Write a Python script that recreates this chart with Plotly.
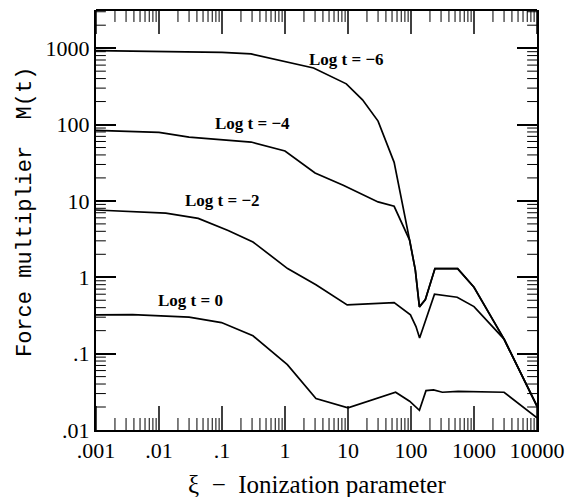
import numpy as np
import plotly.graph_objects as go

# ---- data ----
# Log t = -6
xi_m6 = [0.001, 0.01, 0.1, 0.29, 0.76, 2.84, 9.4, 17, 30, 54, 95, 117, 136, 169, 240, 550, 1000, 3000, 10000]
m_m6 = [930, 910, 880, 840, 700, 551, 341, 211, 111, 32, 3.07, 1.25, 0.41, 0.51, 1.3, 1.3, 0.74, 0.155, 0.0205]
# Log t = -4
xi_m4 = [0.001, 0.01, 0.03, 0.29, 1.0, 3.0, 8.4, 30, 54, 95, 117, 136, 169, 240, 550, 1000, 3000, 10000]
m_m4 = [84, 79, 68.5, 59, 45, 23.2, 16, 9.7, 8.5, 3.07, 1.25, 0.41, 0.51, 1.3, 1.3, 0.74, 0.155, 0.0205]
# Log t = -2
xi_m2 = [0.001, 0.0128, 0.042, 0.125, 0.31, 1.1, 3.1, 9.7, 54, 98, 120, 137, 236, 541, 1000, 3000, 10000]
m_m2 = [7.6, 6.9, 5.9, 4.1, 2.9, 1.3, 0.8, 0.434, 0.466, 0.322, 0.226, 0.16, 0.6, 0.548, 0.413, 0.155, 0.0205]
# Log t = 0
xi_0 = [0.001, 0.0038, 0.03, 0.098, 0.31, 1.09, 3.1, 10, 57, 95, 136, 173, 228, 315, 560, 3000, 10000]
m_0 = [0.322, 0.325, 0.30, 0.255, 0.171, 0.0716, 0.0258, 0.0195, 0.0312, 0.0238, 0.0181, 0.0328, 0.0336, 0.0312, 0.0321, 0.0312, 0.0144]

series = [(xi_m6, m_m6), (xi_m4, m_m4), (xi_m2, m_m2), (xi_0, m_0)]
curve_labels = ["Log t = \u22126", "Log t = \u22124", "Log t = \u22122", "Log t = 0"]
label_pos = [(0.975, 2.85), (-0.512, 2.01), (-1.0, 1.009), (-1.502, -0.305)]  # log10 coords

x_tickvals = [0.001, 0.01, 0.1, 1, 10, 100, 1000, 10000]
x_ticktext = [".001", ".01", ".1", "1", "10", "100", "1000", "10000"]
y_tickvals = [0.01, 0.1, 1, 10, 100, 1000]
y_ticktext = [".01", ".1", "1", "10", "100", "1000"]

x_minor = [m * d for d in x_tickvals[:-1] for m in range(2, 10)]
y_minor = [m * d for d in y_tickvals for m in range(2, 10) if m * d < 3100]

XR = [-3, 4]
YR = [-2, 3.5]
W, H = 575, 497
ML, MR, MT, MB = 96, 32, 10, 66.5
PW, PH = W - ML - MR, H - MT - MB

fig = go.Figure()
for xs, ys in series:
    fig.add_trace(go.Scatter(x=xs, y=ys, mode="lines",
                             line=dict(color="#000000", width=1.7),
                             showlegend=False, hoverinfo="skip"))

tickfont = dict(family="Liberation Serif", size=22, color="#000000")

fig.update_layout(
    width=W, height=H,
    margin=dict(l=ML, r=MR, t=MT, b=MB),
    paper_bgcolor="white", plot_bgcolor="white",
    xaxis=dict(type="log", range=XR, tickmode="array", tickvals=x_tickvals, ticktext=x_ticktext,
               ticks="", showline=True, linecolor="#000000", linewidth=2,
               showgrid=False, zeroline=False, tickfont=tickfont),
    yaxis=dict(type="log", range=YR, tickmode="array", tickvals=y_tickvals, ticktext=y_ticktext,
               ticks="inside", ticklen=20, tickwidth=2, tickcolor="#000000",
               showline=True, linecolor="#000000", linewidth=2, mirror="ticks",
               showgrid=False, zeroline=False, tickfont=tickfont),
)


def xfrac(v):
    return (np.log10(v) - XR[0]) / (XR[1] - XR[0])


def yfrac(v):
    return (np.log10(v) - YR[0]) / (YR[1] - YR[0])


shapes = []
# top frame line
shapes.append(dict(type="line", xref="paper", yref="paper", x0=0, x1=1, y0=1, y1=1,
                   line=dict(color="#000000", width=2)))
# x ticks (bottom and top, inside)
for vals, length, width in ((x_tickvals, 24, 1.5), (x_minor, 12, 1)):
    for v in vals:
        xf = float(xfrac(v))
        shapes.append(dict(type="line", xref="paper", yref="paper", x0=xf, x1=xf,
                           y0=0, y1=length / PH, line=dict(color="#000000", width=width)))
        shapes.append(dict(type="line", xref="paper", yref="paper", x0=xf, x1=xf,
                           y0=1, y1=1 - length / PH, line=dict(color="#000000", width=width)))
# y minor ticks (left and right, inside)
for v in y_minor:
    yf = float(yfrac(v))
    shapes.append(dict(type="line", xref="paper", yref="paper", x0=0, x1=10 / PW,
                       y0=yf, y1=yf, line=dict(color="#000000", width=1)))
    shapes.append(dict(type="line", xref="paper", yref="paper", x0=1, x1=1 - 10 / PW,
                       y0=yf, y1=yf, line=dict(color="#000000", width=1)))
fig.update_layout(shapes=shapes)

for txt, (lx, ly) in zip(curve_labels, label_pos):
    fig.add_annotation(x=lx, y=ly, xref="x", yref="y", text="<b>" + txt + "</b>",
                       showarrow=False, xanchor="center", yanchor="middle",
                       font=dict(family="Liberation Serif", size=17, color="#000000"))

fig.add_annotation(x=0.5, y=-0.1296, xref="paper", yref="paper",
                   text="\u03be  \u2212  Ionization parameter", showarrow=False,
                   xanchor="center", yanchor="middle",
                   font=dict(family="Liberation Serif", size=25, color="#000000"))
fig.add_annotation(x=-0.16, y=0.52, xref="paper", yref="paper",
                   text="Force multiplier  M(t)", showarrow=False, textangle=-90,
                   xanchor="center", yanchor="middle",
                   font=dict(family="Liberation Mono", size=22, color="#000000"))

fig.write_html("out.html")
